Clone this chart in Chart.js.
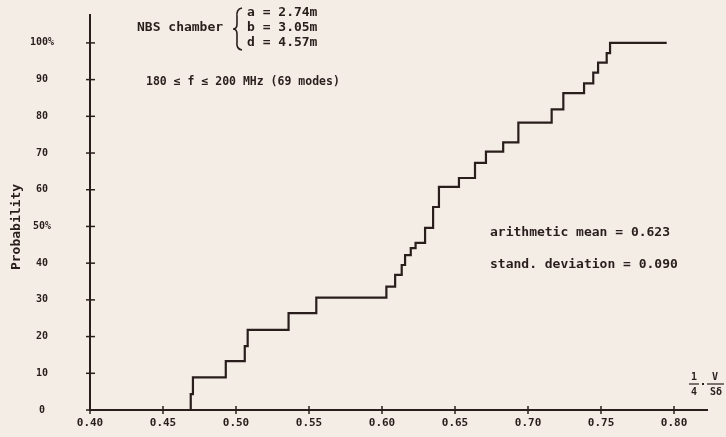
<!DOCTYPE html>
<html>
<head>
<meta charset="utf-8">
<script src="https://cdn.jsdelivr.net/npm/chart.js@4/dist/chart.umd.min.js"></script>
<style>
  html, body { margin: 0; padding: 0; background: #f3ede6; }
  #wrap { width: 726px; height: 437px; position: relative; }
</style>
</head>
<body>
<div id="wrap"><canvas id="chart" width="726" height="437"></canvas></div>
<script>
// Cumulative distribution of Q ratio, NBS chamber, 180-200 MHz
// step positions (x) and the probability reached after each step (%)
const stepX = [0.469, 0.469, 0.4705, 0.493, 0.506, 0.508, 0.536, 0.555, 0.603, 0.609,
  0.6135, 0.6158, 0.6197, 0.623, 0.6295, 0.635, 0.639, 0.6527, 0.6637, 0.6712,
  0.683, 0.6934, 0.7162, 0.7242, 0.7384, 0.7447, 0.748, 0.7539, 0.7562, 0.795];
const stepLevel = [0, 4.3, 8.9, 13.3, 17.4, 21.8, 26.4, 30.6, 33.6, 36.8,
  39.5, 42.2, 44.1, 45.5, 49.6, 55.3, 60.8, 63.2, 67.3, 70.4,
  72.9, 78.3, 81.9, 86.3, 89.0, 91.9, 94.6, 97.2, 100, 100];

const xTicks = [0.40, 0.45, 0.50, 0.55, 0.60, 0.65, 0.70, 0.75, 0.80];
const yTicks = [0, 10, 20, 30, 40, 50, 60, 70, 80, 90, 100];
const yTickLabels = ['0', '10', '20', '30', '40', '50%', '60', '70', '80', '90', '100%'];

const ink = '#2a1e1c';
const mono = '"DejaVu Sans Mono", "Liberation Mono", monospace';

// crosses on the axes + annotation text
const decorations = {
  id: 'decorations',
  afterDraw(chart) {
    const ctx = chart.ctx;
    const xs = chart.scales.x, ys = chart.scales.y;
    const x0 = xs.getPixelForValue(xs.min);
    const y0 = ys.getPixelForValue(0);
    ctx.save();
    ctx.strokeStyle = ink;
    ctx.lineWidth = 1.5;
    xTicks.forEach(v => {
      const px = xs.getPixelForValue(v);
      ctx.beginPath(); ctx.moveTo(px, y0 - 4); ctx.lineTo(px, y0 + 4); ctx.stroke();
    });
    yTicks.forEach(v => {
      const py = ys.getPixelForValue(v);
      ctx.beginPath(); ctx.moveTo(x0 - 4, py); ctx.lineTo(x0 + 5, py); ctx.stroke();
    });

    ctx.fillStyle = ink;
    ctx.textBaseline = 'middle';
    ctx.textAlign = 'left';
    ctx.font = 'bold 13px ' + mono;
    ctx.fillText('NBS chamber', 137, 28);
    ctx.fillText('a = 2.74m', 247, 13);
    ctx.fillText('b = 3.05m', 247, 28);
    ctx.fillText('d = 4.57m', 247, 43);
    ctx.fillText('arithmetic mean = 0.623', 490, 233);
    ctx.fillText('stand. deviation = 0.090', 490, 265);
    ctx.font = 'bold 11.5px ' + mono;
    ctx.fillText('180 \u2264 f \u2264 200 MHz (69 modes)', 146, 82);

    // brace
    ctx.lineWidth = 1.6;
    ctx.beginPath();
    ctx.moveTo(242, 8);
    ctx.quadraticCurveTo(236, 9, 237, 17);
    ctx.lineTo(237, 24);
    ctx.quadraticCurveTo(237, 29, 233, 29);
    ctx.quadraticCurveTo(237, 29, 237, 34);
    ctx.lineTo(237, 42);
    ctx.quadraticCurveTo(236, 49, 242, 50);
    ctx.stroke();

    // axis title
    ctx.save();
    ctx.translate(17, 227);
    ctx.rotate(-Math.PI / 2);
    ctx.textAlign = 'center';
    ctx.font = 'bold 13px ' + mono;
    ctx.fillText('Probability', 0, 0);
    ctx.restore();

    // x quantity: 1/4 . V/(S delta)
    ctx.font = 'bold 10px ' + mono;
    ctx.textAlign = 'center';
    ctx.fillText('1', 694, 377);
    ctx.fillText('V', 715, 377);
    ctx.fillText('4', 694, 392);
    ctx.fillText('S\u03b4', 716, 392);
    ctx.lineWidth = 1.2;
    ctx.beginPath(); ctx.moveTo(689, 384); ctx.lineTo(699, 384); ctx.stroke();
    ctx.beginPath(); ctx.moveTo(707, 384); ctx.lineTo(724, 384); ctx.stroke();
    ctx.fillRect(702, 383, 2, 2);
    ctx.restore();
  }
};

const points = stepX.map((x, i) => ({ x: x, y: stepLevel[i] }));

new Chart(document.getElementById('chart'), {
  type: 'line',
  data: {
    datasets: [{
      data: points,
      borderColor: ink,
      borderWidth: 2.2,
      pointRadius: 0,
      stepped: 'before',
      fill: false
    }]
  },
  options: {
    responsive: false,
    animation: false,
    layout: { padding: { left: 0, top: 15, right: 19, bottom: 0 } },
    plugins: { legend: { display: false }, tooltip: { enabled: false } },
    scales: {
      x: {
        type: 'linear',
        min: 0.40,
        max: 0.8226,
        afterBuildTicks: s => { s.ticks = xTicks.map(v => ({ value: v })); },
        afterFit: s => { s.height = 27; },
        grid: { display: false, drawTicks: false },
        border: { display: true, color: ink, width: 2 },
        ticks: {
          padding: 7,
          color: ink,
          font: { family: mono, size: 11, weight: 'bold' },
          maxRotation: 0,
          callback: v => v.toFixed(2)
        }
      },
      y: {
        type: 'linear',
        min: 0,
        max: 107.6,
        afterBuildTicks: s => { s.ticks = yTicks.map(v => ({ value: v })); },
        afterFit: s => { s.width = 90; },
        // invisible tick marks only used to push the labels away from the axis
        grid: { display: true, color: 'rgba(0,0,0,0)', drawOnChartArea: false, drawTicks: true, tickLength: 36 },
        border: { display: true, color: ink, width: 2 },
        ticks: {
          padding: 0,
          crossAlign: 'center',
          color: ink,
          font: { family: mono, size: 10, weight: 'bold' },
          callback: (v, i) => yTickLabels[yTicks.indexOf(v)]
        }
      }
    }
  },
  plugins: [decorations]
});
</script>
</body>
</html>
